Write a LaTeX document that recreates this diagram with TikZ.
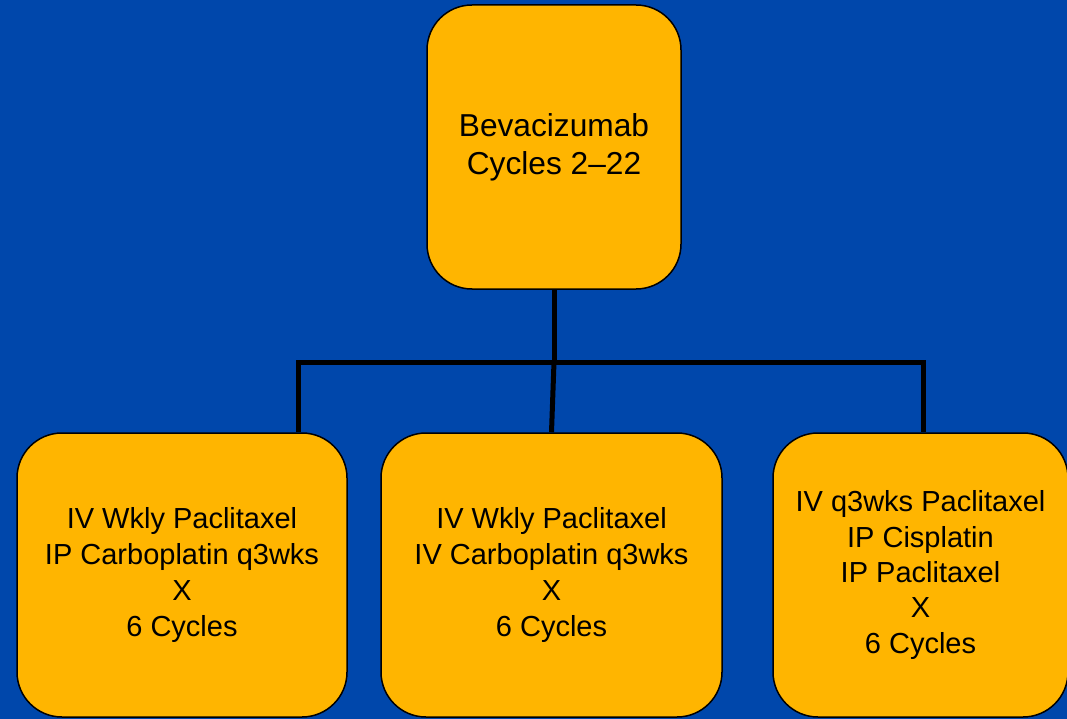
\documentclass[tikz,border=0pt]{standalone}
\usepackage{fontspec}
\setmainfont{Liberation Sans}
\definecolor{bgblue}{RGB}{0,71,171}
\definecolor{boxorange}{RGB}{255,181,0}
\begin{document}
\begin{tikzpicture}[x=1pt,y=-1pt,
  box/.style={draw=black, line width=1.5pt, fill=boxorange, rounded corners=45pt,
    align=center, inner sep=0pt, text=black},
  conn/.style={draw=black, line width=5pt, line join=miter}]
\fill[bgblue] (0,0) rectangle (1067,719);
\useasboundingbox (0,0) rectangle (1067,719);
% connectors
\coordinate (j) at (554,362);
\coordinate (lj) at (298,362);
\coordinate (rj) at (923,362);
\node[box, minimum width=254pt, minimum height=284pt, font=\fontsize{31.7}{38}\selectfont] (top) at (554,147) {Bevacizumab\\Cycles 2--22};
\node[box, minimum width=330pt, minimum height=284pt, font=\fontsize{29}{36}\selectfont] (left) at (182,575) {IV Wkly Paclitaxel\\IP Carboplatin q3wks\\X\\6 Cycles};
\node[box, minimum width=341pt, minimum height=284pt, font=\fontsize{29}{36}\selectfont] (mid) at (551.5,575) {IV Wkly Paclitaxel\\IV Carboplatin q3wks\\X\\6 Cycles};
\node[box, minimum width=295pt, minimum height=284pt, font=\fontsize{29}{35.3}\selectfont] (right) at (920.5,575) {IV q3wks Paclitaxel\\IP Cisplatin\\IP Paclitaxel\\X\\6 Cycles};
\draw[conn] (top.south) -- (j);
\draw[conn] (lj |- left.north) -- (lj) -- (rj) -- (rj |- right.north);
\draw[conn] (j) -- (mid.north);
\end{tikzpicture}
\end{document}
